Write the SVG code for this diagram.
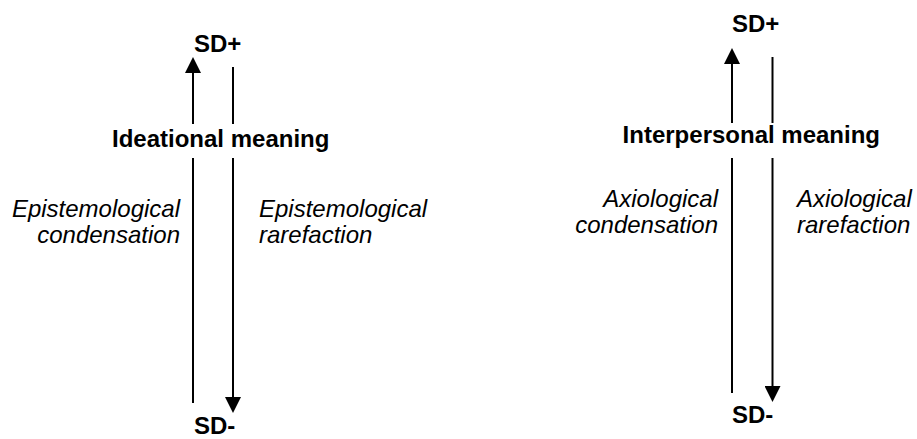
<svg xmlns="http://www.w3.org/2000/svg" width="917" height="439" viewBox="0 0 917 439">
  <style>
    .b { font-family: "Liberation Sans", Arial, sans-serif; font-weight: bold; font-size: 24px; fill: #000; }
    .i { font-family: "Liberation Sans", Arial, sans-serif; font-style: italic; font-size: 24px; fill: #000; }
    .ln { stroke: #000; stroke-width: 2; fill: none; }
  </style>
  <defs>
    <marker id="ah" viewBox="0 0 16 16" refX="12" refY="8" markerWidth="16" markerHeight="16" markerUnits="userSpaceOnUse" orient="auto">
      <path d="M0,0 L16,8 L0,16 z" fill="#000"/>
    </marker>
  </defs>
  <rect width="917" height="439" fill="#fff"/>

  <g id="connectors">
    <!-- left: up arrow -->
    <line class="ln" x1="193" y1="403" x2="193" y2="158"/>
    <line class="ln" x1="193" y1="124" x2="193" y2="61" marker-end="url(#ah)"/>
    <!-- left: down arrow -->
    <line class="ln" x1="233" y1="67" x2="233" y2="124"/>
    <line class="ln" x1="233" y1="158" x2="233" y2="409" marker-end="url(#ah)"/>
    <!-- right: up arrow -->
    <line class="ln" x1="732" y1="393" x2="732" y2="158"/>
    <line class="ln" x1="732" y1="123" x2="732" y2="52" marker-end="url(#ah)"/>
    <!-- right: down arrow -->
    <line class="ln" x1="772.5" y1="57" x2="772.5" y2="123"/>
    <line class="ln" x1="772.5" y1="158" x2="772.5" y2="398" marker-end="url(#ah)"/>
  </g>

  <g id="left-sdplus"><text class="b" x="194" y="52">SD+</text></g>
  <g id="left-sdminus"><text class="b" x="194" y="434">SD-</text></g>
  <g id="ideational"><text class="b" x="112" y="147">Ideational meaning</text></g>
  <g id="epi-condensation">
    <text class="i" text-anchor="end" x="180" y="217">Epistemological</text>
    <text class="i" text-anchor="end" x="180" y="243">condensation</text>
  </g>
  <g id="epi-rarefaction">
    <text class="i" x="259" y="217">Epistemological</text>
    <text class="i" x="259" y="243">rarefaction</text>
  </g>

  <g id="right-sdplus"><text class="b" x="732" y="32">SD+</text></g>
  <g id="right-sdminus"><text class="b" x="732" y="423">SD-</text></g>
  <g id="interpersonal"><text class="b" text-anchor="end" x="880" y="143">Interpersonal meaning</text></g>
  <g id="axio-condensation">
    <text class="i" text-anchor="end" x="718" y="207">Axiological</text>
    <text class="i" text-anchor="end" x="718" y="233">condensation</text>
  </g>
  <g id="axio-rarefaction">
    <text class="i" x="797" y="207">Axiological</text>
    <text class="i" x="797" y="233">rarefaction</text>
  </g>
</svg>
